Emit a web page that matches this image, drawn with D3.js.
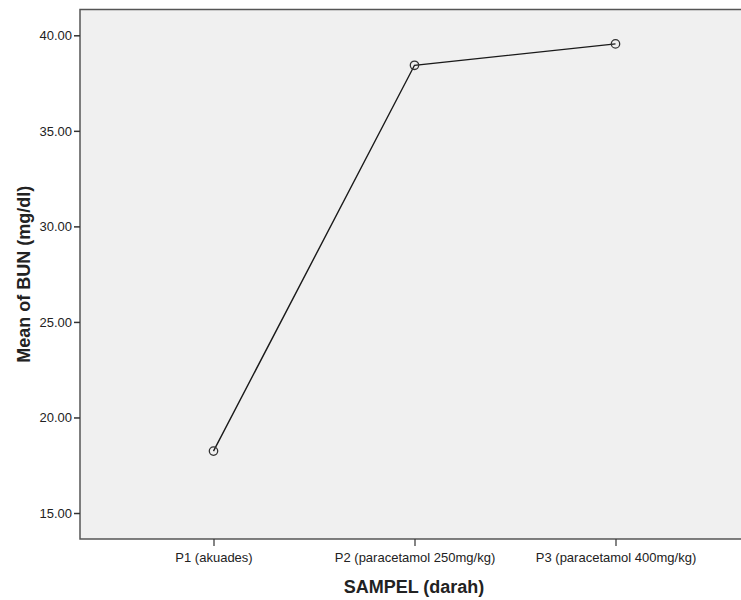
<!DOCTYPE html>
<html>
<head>
<meta charset="utf-8">
<script src="https://cdn.jsdelivr.net/npm/d3@7"></script>
<style>
  body { margin: 0; background: #fff; }
  text { font-family: "Liberation Sans", Arial, sans-serif; fill: #222; }
</style>
</head>
<body>
<div id="chart"></div>
<script>
    // data
    var categories = ['P1 (akuades)', 'P2 (paracetamol 250mg/kg)', 'P3 (paracetamol 400mg/kg)']
    var means = [18.24, 38.43, 39.55]
    var yTicks = [15, 20, 25, 30, 35, 40]

    var width = 741
    var height = 600
    // plot box (right edge runs off the picture)
    var plotLeft = 80, plotTop = 9.5, plotBottom = 539, plotRight = 749

    var svg = d3.select('#chart')
        .append('svg')
        .attr('width', width)
        .attr('height', height)

    var x = d3.scalePoint()
        .domain(categories)
        .range([213.5, 615.5])

    var y = d3.scaleLinear()
        .domain([13.64, 41.35])
        .range([plotBottom, plotTop])

    // plot background
    svg.append('rect')
        .attr('x', plotLeft)
        .attr('y', plotTop)
        .attr('width', plotRight - plotLeft)
        .attr('height', plotBottom - plotTop)
        .style('fill', '#f0f0f0')
        .attr('stroke', '#555')
        .style('stroke-width', 1.5)

    // y axis
    var yAxis = svg.append('g')
        .attr('transform', 'translate(' + plotLeft + ',0)')
        .call(d3.axisLeft(y).tickValues(yTicks).tickFormat(d3.format('.2f')).tickSize(6).tickPadding(2))
    yAxis.select('.domain').remove()
    yAxis.selectAll('line').attr('stroke', '#333').style('stroke-width', 1.5)
    yAxis.selectAll('text').style('font-size', '13px').style('font-family', '"Liberation Sans", Arial, sans-serif').attr('fill', '#222')

    // x axis
    var xAxis = svg.append('g')
        .attr('transform', 'translate(0,' + plotBottom + ')')
        .call(d3.axisBottom(x).tickSize(7).tickPadding(7))
    xAxis.select('.domain').remove()
    xAxis.selectAll('line').attr('stroke', '#333').style('stroke-width', 1.2)
    xAxis.selectAll('text').style('font-size', '13px').style('font-family', '"Liberation Sans", Arial, sans-serif').attr('fill', '#222')

    // line
    var line = d3.line()
        .x(function (d, i) { return x(categories[i]) })
        .y(function (d) { return y(d) })

    svg.append('path')
        .datum(means)
        .attr('d', line)
        .style('fill', 'none')
        .attr('stroke', '#1a1a1a')
        .style('stroke-width', 1.4)

    svg.selectAll('circle.pt')
        .data(means)
        .enter()
        .append('circle')
        .attr('class', 'pt')
        .attr('cx', function (d, i) { return x(categories[i]) })
        .attr('cy', function (d) { return y(d) })
        .attr('r', 4.2)
        .style('fill', 'none')
        .attr('stroke', '#333')
        .style('stroke-width', 1.3)

    // axis titles
    svg.append('text')
        .attr('x', 414)
        .attr('y', 593)
        .attr('text-anchor', 'middle')
        .style('font-size', '18px')
        .style('font-weight', 'bold')
        .text('SAMPEL (darah)')

    svg.append('text')
        .attr('transform', 'translate(30,' + ((plotTop + plotBottom) / 2) + ') rotate(-90)')
        .attr('text-anchor', 'middle')
        .style('font-size', '18px')
        .style('font-weight', 'bold')
        .text('Mean of BUN (mg/dl)')
</script>
</body>
</html>
